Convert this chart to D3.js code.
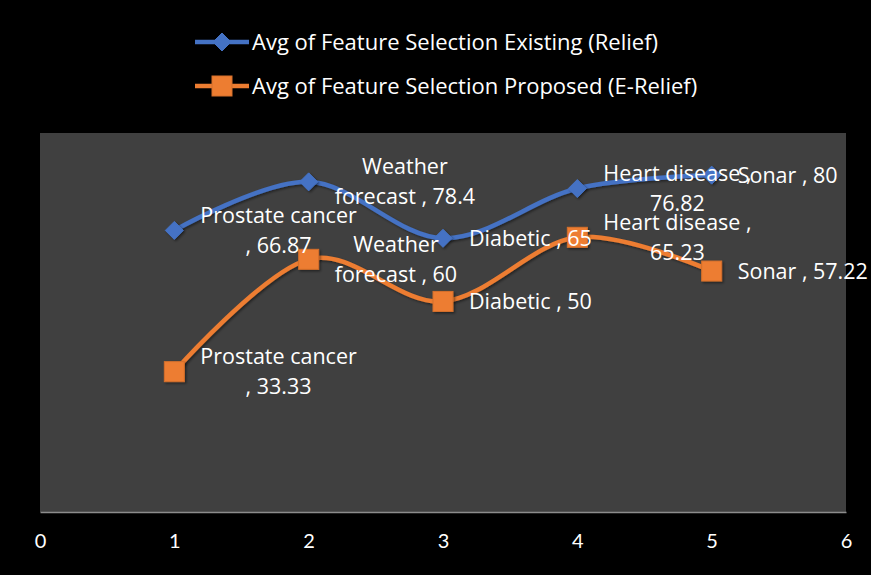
<!DOCTYPE html>
<html>
<head>
<meta charset="utf-8">
<script src="https://cdn.jsdelivr.net/npm/d3@7"></script>
<style>
  html, body { margin: 0; padding: 0; background: #000; }
  svg { display: block; }
  text { font-family: "Open Sans", Lato, sans-serif; fill: #fff; }
</style>
</head>
<body>
<svg id="chart" width="871" height="575"></svg>
<script>
// Dataset positions along the x axis
const xs = [1, 2, 3, 4, 5];
const datasets = ["Prostate cancer", "Weather forecast", "Diabetic", "Heart disease", "Sonar"];

// Average accuracy of each feature selection method
const existingValues = [66.87, 78.4, 65, 76.82, 80];
const proposedValues = [33.33, 60, 50, 65.23, 57.22];

const seriesNames = [
  "Avg of Feature Selection Existing (Relief)",
  "Avg of Feature Selection Proposed (E-Relief)"
];

// How each data label wraps onto lines
const existingLabelLines = [
  ["Prostate cancer", ", 66.87"],
  ["Weather", "forecast , 78.4"],
  ["Diabetic , 65"],
  ["Heart disease ,", "76.82"],
  ["Sonar , 80"]
];
const proposedLabelLines = [
  ["Prostate cancer", ", 33.33"],
  ["Weather", "forecast , 60"],
  ["Diabetic , 50"],
  ["Heart disease ,", "65.23"],
  ["Sonar , 57.22"]
];

const xTicks = [0, 1, 2, 3, 4, 5, 6];

const svg = d3.select("#chart");
const W = 871, H = 575;
const plot = { left: 40, right: 846, top: 133, bottom: 512 };

const x = d3.scaleLinear().domain([0, 6]).range([plot.left, plot.right]);
const y = d3.scaleLinear().domain([0, 90]).range([plot.bottom, plot.top]);

const colors = ["#4472C4", "#ED7D31"];

// drop shadow for lines and markers
const defs = svg.append("defs");
const f = defs.append("filter").attr("id", "shadow").attr("x", "-20%").attr("y", "-20%").attr("width", "140%").attr("height", "140%");
f.append("feDropShadow").attr("dx", 1.5).attr("dy", 1.5).attr("stdDeviation", 1.2)
  .attr("flood-color", "#000").attr("flood-opacity", 0.45);

svg.append("rect").attr("width", W).attr("height", H).attr("fill", "#000");

// plot area
svg.append("rect")
  .attr("x", plot.left).attr("y", plot.top)
  .attr("width", plot.right - plot.left).attr("height", plot.bottom - plot.top)
  .attr("fill", "#404040");

// x axis
const xAxis = d3.axisBottom(x).tickValues(xTicks).tickSize(0).tickPadding(22).tickFormat(d3.format("d"));
const gx = svg.append("g").attr("transform", `translate(0,${plot.bottom})`).call(xAxis);
gx.select(".domain").attr("stroke", "#8c8c8c").attr("stroke-width", 1.5);
gx.selectAll("text").style("font-size", "20px").style("font-family", "Lato, sans-serif").attr("fill", "#fff");

const line = d3.line()
  .x((d, i) => x(xs[i]))
  .y(d => y(d))
  .curve(d3.curveCardinal.tension(0));

const series = [
  { values: existingValues, labels: existingLabelLines, color: colors[0], marker: "diamond" },
  { values: proposedValues, labels: proposedLabelLines, color: colors[1], marker: "square" }
];

function drawMarker(g, type, cx, cy, color) {
  if (type === "diamond") {
    const s = 9;
    g.append("path")
      .attr("d", `M${cx},${cy - s}L${cx + s},${cy}L${cx},${cy + s}L${cx - s},${cy}Z`)
      .attr("fill", color).attr("stroke", color).attr("stroke-width", 1);
  } else {
    const s = 10;
    g.append("rect")
      .attr("x", cx - s).attr("y", cy - s).attr("width", 2 * s).attr("height", 2 * s)
      .attr("fill", color).attr("stroke", d3.color(color).darker(0.3)).attr("stroke-width", 1);
  }
}

series.forEach(s => {
  const g = svg.append("g");
  g.append("path")
    .datum(s.values)
    .attr("d", line)
    .attr("fill", "none")
    .attr("stroke", s.color)
    .attr("stroke-width", 4.5)
    .attr("stroke-linecap", "round")
    .attr("filter", "url(#shadow)");
  const mg = g.append("g").attr("filter", "url(#shadow)");
  s.values.forEach((v, i) => drawMarker(mg, s.marker, x(xs[i]), y(v), s.color));
});

// data labels, placed to the right of each point
const lineH = 30;
series.forEach(s => {
  s.values.forEach((v, i) => {
    const lines = s.labels[i];
    const cx = x(xs[i]), cy = y(v);
    const t = svg.append("text").style("font-size", "21.5px");
    const spans = lines.map(l => t.append("tspan").text(l));
    const widths = spans.map(sp => sp.node().getComputedTextLength());
    const maxW = d3.max(widths);
    const left = cx + 26;
    const center = left + maxW / 2;
    const top = cy - (lines.length - 1) * lineH / 2;
    spans.forEach((sp, k) => {
      sp.attr("x", center).attr("y", top + k * lineH).attr("text-anchor", "middle").attr("dy", "0.35em");
    });
  });
});

// legend
const legend = svg.append("g");
seriesNames.forEach((name, i) => {
  const ly = 42 + i * 44;
  const g = legend.append("g");
  g.append("line").attr("x1", 195).attr("x2", 249).attr("y1", ly).attr("y2", ly)
    .attr("stroke", colors[i]).attr("stroke-width", 4.5);
  drawMarker(g, i === 0 ? "diamond" : "square", 222, ly, colors[i]);
  g.append("text").attr("x", 252).attr("y", ly).attr("dy", "0.35em")
    .style("font-size", "22px").text(name);
});
</script>
</body>
</html>
